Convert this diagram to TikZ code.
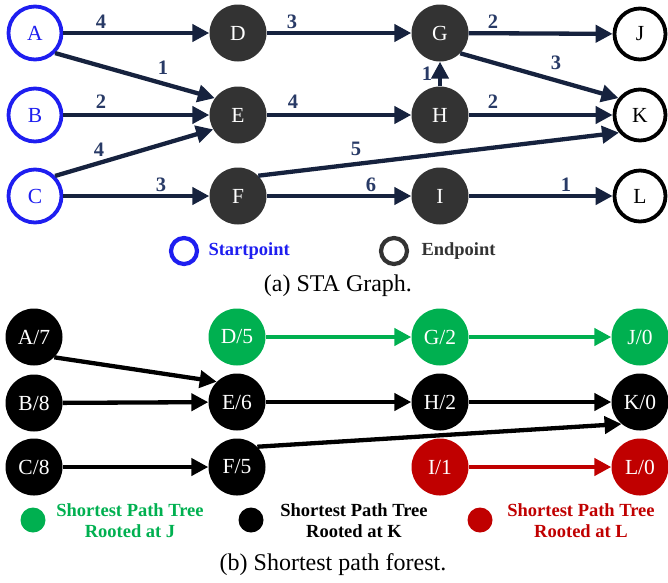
\documentclass[tikz,border=0pt]{standalone}
\usepackage{fontspec}
\setmainfont{Liberation Serif}
\usetikzlibrary{arrows.meta}

\definecolor{navy}{RGB}{22,34,62}
\definecolor{lblnavy}{RGB}{40,58,102}
\definecolor{startblue}{RGB}{30,30,240}
\definecolor{nodegray}{RGB}{51,51,51}
\definecolor{treegreen}{RGB}{0,176,80}
\definecolor{treered}{RGB}{192,0,0}

\begin{document}
\begin{tikzpicture}[x=1pt,y=-1pt,
  every node/.style={font=\fontsize{21.5}{23}\selectfont},
  startnode/.style={circle, draw=startblue, line width=3.8pt, fill=white,
    text=startblue, minimum size=53pt, inner sep=0pt},
  endnode/.style={circle, draw=black, line width=3.8pt, fill=white,
    text=black, minimum size=51pt, inner sep=0pt},
  midnode/.style={circle, fill=nodegray, text=white, minimum size=57pt, inner sep=0pt},
  treenode/.style={circle, fill=#1, text=white, minimum size=57pt, inner sep=0pt},
  staedge/.style={draw=navy, line width=4.3pt, -{Triangle[length=17pt,width=17pt]}},
  treeedge/.style={draw=#1, line width=4.3pt, -{Triangle[length=17pt,width=17pt]}},
  wt/.style={text=lblnavy, font=\bfseries\fontsize{20.5}{22}\selectfont},
  legtext/.style={font=\bfseries\fontsize{18.5}{21}\selectfont, align=center},
  caption/.style={font=\fontsize{24}{26}\selectfont}
]
\useasboundingbox (0,0) rectangle (668,582);

% ---------- (a) STA graph ----------
\node[startnode] (A) at (35,33) {A};
\node[startnode] (B) at (35,115) {B};
\node[startnode] (C) at (35,196) {C};
\node[midnode] (D) at (238,33) {D};
\node[midnode] (E) at (238,115) {E};
\node[midnode] (F) at (238,196) {F};
\node[midnode] (G) at (440,33) {G};
\node[midnode] (H) at (440,115) {H};
\node[midnode] (I) at (440,196) {I};
\node[endnode] (J) at (640,34) {J};
\node[endnode] (K) at (640,115) {K};
\node[endnode] (L) at (640,196) {L};

\draw[staedge] (A) -- (D);
\draw[staedge] (A.south east) -- (E.144);
\draw[staedge] (B) -- (E);
\draw[staedge] (C.north east) -- (E.210);
\draw[staedge] (C) -- (F);
\draw[staedge] (D) -- (G);
\draw[staedge] (E) -- (H);
\draw[staedge] (F) -- (I);
\draw[staedge] (F.north east) -- (K.220);
\draw[staedge] (H.north) -- (G.south);
\draw[staedge] (G) -- (J);
\draw[staedge] (G.south east) -- (K.142);
\draw[staedge] (H) -- (K);
\draw[staedge] (I) -- (L);

\node[wt] (wAD) at (101,22) {4};
\node[wt] (wAE) at (163,68) {1};
\node[wt] (wBE) at (101,102) {2};
\node[wt] (wCE) at (99,150) {4};
\node[wt] (wCF) at (161,185) {3};
\node[wt] (wDG) at (292,22) {3};
\node[wt] (wEH) at (293,102) {4};
\node[wt] (wFI) at (371,185) {6};
\node[wt] (wFK) at (356,149) {5};
\node[wt] (wHG) at (427,74) {1};
\node[wt] (wGJ) at (493,22) {2};
\node[wt] (wGK) at (556,63) {3};
\node[wt] (wHK) at (493,102) {2};
\node[wt] (wIL) at (566,185) {1};

% legend
\node[circle, draw=startblue, line width=4.2pt, minimum size=26pt, inner sep=0pt] (lgstart) at (184,251) {};
\node[anchor=west, text=startblue, font=\bfseries\fontsize{18.5}{20}\selectfont] (lgstarttxt) at (205,251) {Startpoint};
\node[circle, draw=nodegray, line width=4.2pt, minimum size=26pt, inner sep=0pt] (lgend) at (394,251) {};
\node[anchor=west, text=nodegray, font=\bfseries\fontsize{18.5}{20}\selectfont] (lgendtxt) at (418,251) {Endpoint};

\node[caption] (capa) at (338,286) {(a) STA Graph.};

% ---------- (b) shortest path forest ----------
\node[treenode=black] (A7) at (34,337) {A/7};
\node[treenode=black] (B8) at (34,403) {B/8};
\node[treenode=black] (C8) at (34,467) {C/8};
\node[treenode=treegreen] (D5) at (237,337) {D/5};
\node[treenode=black] (E6) at (237,402) {E/6};
\node[treenode=black] (F5) at (237,467) {F/5};
\node[treenode=treegreen] (G2) at (440,337) {G/2};
\node[treenode=black] (H2) at (440,402) {H/2};
\node[treenode=treered] (I1) at (440,467) {I/1};
\node[treenode=treegreen] (J0) at (640,337) {J/0};
\node[treenode=black] (K0) at (640,402) {K/0};
\node[treenode=treered] (L0) at (640,467) {L/0};

\draw[treeedge=black] (A7.south east) -- (E6.north west);
\draw[treeedge=black] (B8) -- (E6);
\draw[treeedge=black] (C8) -- (F5);
\draw[treeedge=black] (E6) -- (H2);
\draw[treeedge=black] (H2) -- (K0);
\draw[treeedge=black] (F5.north east) -- (K0.230);
\draw[treeedge=treegreen] (D5) -- (G2);
\draw[treeedge=treegreen] (G2) -- (J0);
\draw[treeedge=treered] (I1) -- (L0);

% legend
\node[circle, fill=treegreen, minimum size=25pt, inner sep=0pt] (lgJ) at (33,520) {};
\node[legtext, text=treegreen] (lgJtxt) at (130,521) {Shortest Path Tree\\Rooted at J};
\node[circle, fill=black, minimum size=25pt, inner sep=0pt] (lgK) at (251,520) {};
\node[legtext, text=black] (lgKtxt) at (354,521) {Shortest Path Tree\\Rooted at K};
\node[circle, fill=treered, minimum size=25pt, inner sep=0pt] (lgL) at (480,520) {};
\node[legtext, text=treered] (lgLtxt) at (581,521) {Shortest Path Tree\\Rooted at L};

\node[caption] (capb) at (333,565) {(b) Shortest path forest.};
\end{tikzpicture}
\end{document}
